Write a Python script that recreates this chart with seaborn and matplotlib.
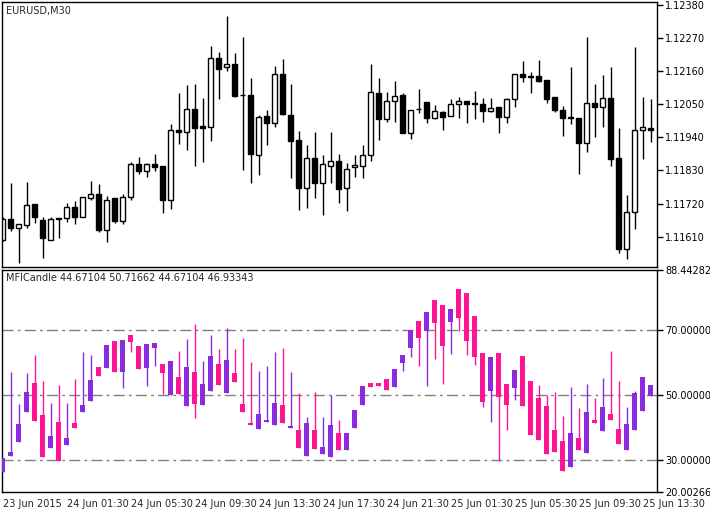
import numpy as np
import pandas as pd
import matplotlib
matplotlib.use("Agg")
import matplotlib.pyplot as plt
import seaborn as sns

# EURUSD M30 candles
price_open = [1.11598, 1.11670, 1.11639, 1.11650, 1.11718, 1.11664, 1.11600, 1.11667, 1.11673, 1.11710,
              1.11675, 1.11740, 1.11753, 1.11633, 1.11737, 1.11662, 1.11743, 1.11853, 1.11829, 1.11853,
              1.11844, 1.11733, 1.11966, 1.11959, 1.12033, 1.11977, 1.11975, 1.12203, 1.12173, 1.12183,
              1.12080, 1.12080, 1.11880, 1.12011, 1.11989, 1.12149, 1.12013, 1.11931, 1.11770, 1.11870,
              1.11789, 1.11846, 1.11860, 1.11770, 1.11840, 1.11846, 1.11880, 1.12086, 1.12000, 1.12060,
              1.12080, 1.11953, 1.12034, 1.12056, 1.12003, 1.12023, 1.12010, 1.12050, 1.12060, 1.12053,
              1.12050, 1.12029, 1.12040, 1.12009, 1.12066, 1.12149, 1.12144, 1.12143, 1.12131, 1.12073,
              1.12031, 1.12005, 1.12006, 1.11922, 1.12053, 1.12040, 1.12070, 1.11870, 1.11569, 1.11693,
              1.11963, 1.11971]
price_high = [1.11675, 1.11789, 1.11653, 1.11791, 1.11718, 1.11675, 1.11675, 1.11673, 1.11722, 1.11728,
              1.11743, 1.11794, 1.11784, 1.11744, 1.11737, 1.11753, 1.11859, 1.11875, 1.11856, 1.11886,
              1.11844, 1.11986, 1.12088, 1.12114, 1.12117, 1.12070, 1.12244, 1.12223, 1.12344, 1.12219,
              1.12273, 1.12137, 1.12014, 1.12031, 1.12177, 1.12199, 1.12117, 1.11961, 1.11914, 1.11959,
              1.11883, 1.11957, 1.11884, 1.11855, 1.11881, 1.11914, 1.12184, 1.12136, 1.12090, 1.12127,
              1.12086, 1.12031, 1.12101, 1.12056, 1.12047, 1.12027, 1.12067, 1.12073, 1.12060, 1.12094,
              1.12070, 1.12070, 1.12040, 1.12070, 1.12149, 1.12194, 1.12156, 1.12196, 1.12131, 1.12075,
              1.12044, 1.12173, 1.12006, 1.12275, 1.12117, 1.12147, 1.12173, 1.11972, 1.11748, 1.12239,
              1.12075, 1.12067]
price_low = [1.11596, 1.11629, 1.11522, 1.11639, 1.11655, 1.11539, 1.11600, 1.11606, 1.11659, 1.11653,
             1.11675, 1.11733, 1.11626, 1.11592, 1.11655, 1.11653, 1.11731, 1.11818, 1.11809, 1.11829,
             1.11687, 1.11703, 1.11917, 1.11897, 1.11845, 1.11859, 1.11929, 1.12067, 1.12162, 1.12075,
             1.11831, 1.11789, 1.11814, 1.11914, 1.11975, 1.12014, 1.11806, 1.11698, 1.11706, 1.11739,
             1.11681, 1.11789, 1.11722, 1.11695, 1.11809, 1.11806, 1.11862, 1.11931, 1.11992, 1.11992,
             1.11953, 1.11936, 1.12022, 1.11989, 1.12000, 1.11966, 1.12010, 1.12005, 1.11989, 1.12000,
             1.11992, 1.12025, 1.11953, 1.11989, 1.12040, 1.12124, 1.12088, 1.12125, 1.12053, 1.12023,
             1.11945, 1.11984, 1.11818, 1.11892, 1.11942, 1.11975, 1.11845, 1.11557, 1.11537, 1.11634,
             1.11869, 1.11925]
price_close = [1.11670, 1.11639, 1.11653, 1.11714, 1.11675, 1.11606, 1.11670, 1.11673, 1.11710, 1.11675,
               1.11743, 1.11753, 1.11631, 1.11733, 1.11661, 1.11743, 1.11853, 1.11829, 1.11853, 1.11842,
               1.11731, 1.11966, 1.11959, 1.12033, 1.11970, 1.11972, 1.12203, 1.12168, 1.12183, 1.12079,
               1.12080, 1.11884, 1.12009, 1.11989, 1.12149, 1.12017, 1.11929, 1.11772, 1.11873, 1.11789,
               1.11850, 1.11860, 1.11769, 1.11836, 1.11848, 1.11881, 1.12090, 1.12000, 1.12061, 1.12076,
               1.11953, 1.12031, 1.12034, 1.12003, 1.12027, 1.12009, 1.12050, 1.12060, 1.12050, 1.12050,
               1.12029, 1.12036, 1.12009, 1.12066, 1.12149, 1.12142, 1.12139, 1.12128, 1.12068, 1.12030,
               1.12003, 1.12005, 1.11922, 1.12053, 1.12040, 1.12070, 1.11869, 1.11569, 1.11691, 1.11963,
               1.11973, 1.11963]

# MFICandle values
mfi_open = [26.1, 31.2, 35.3, 44.6, 53.5, 43.6, 33.7, 41.7, 34.4, 41.4,
            44.6, 48.0, 58.5, 58.3, 66.6, 57.0, 68.4, 65.0, 58.3, 64.5,
            59.4, 50.0, 55.4, 46.5, 56.9, 46.8, 51.1, 59.4, 50.5, 56.6,
            47.0, 41.4, 39.3, 41.5, 40.6, 46.7, 39.6, 39.2, 31.2, 39.2,
            31.6, 30.9, 38.3, 32.8, 39.6, 46.8, 53.5, 53.5, 54.8, 52.5,
            59.8, 64.5, 72.8, 69.5, 79.3, 77.5, 72.3, 82.7, 81.5, 74.3,
            62.8, 51.1, 62.8, 53.2, 52.0, 61.9, 54.1, 48.9, 46.5, 39.2,
            35.8, 27.8, 36.7, 31.9, 42.3, 38.7, 43.9, 39.5, 32.8, 39.0,
            44.9, 49.6]
mfi_close = [30.4, 32.4, 41.1, 50.7, 41.8, 30.9, 37.4, 29.7, 36.7, 39.6,
             46.7, 54.5, 55.8, 65.3, 57.0, 66.9, 66.4, 58.0, 65.6, 66.0,
             56.7, 60.4, 50.1, 58.5, 47.0, 53.2, 61.9, 53.0, 60.7, 53.9,
             44.6, 40.6, 43.9, 42.3, 47.3, 41.2, 40.2, 33.7, 41.4, 33.4,
             33.9, 40.6, 32.8, 38.3, 45.4, 52.6, 52.5, 52.7, 51.5, 57.9,
             62.2, 70.0, 67.6, 75.6, 72.0, 65.1, 76.5, 73.5, 66.7, 61.7,
             47.7, 61.6, 49.3, 46.8, 57.6, 46.5, 37.5, 35.9, 31.6, 32.2,
             26.6, 38.3, 33.1, 44.8, 41.2, 46.1, 42.1, 34.7, 41.1, 50.4,
             55.4, 52.9]
mfi_high = [30.4, 57.0, 47.0, 56.6, 62.2, 54.1, 47.3, 52.9, 47.3, 54.8,
            63.3, 62.2, 58.5, 65.3, 66.6, 66.9, 68.4, 65.0, 65.6, 66.0,
            59.4, 60.4, 63.5, 67.2, 71.9, 60.4, 68.4, 64.1, 70.5, 64.1,
            67.5, 60.0, 57.4, 58.8, 63.3, 64.4, 56.9, 50.4, 43.1, 50.7,
            43.1, 49.8, 42.3, 38.3, 45.4, 52.6, 53.5, 53.5, 54.8, 57.9,
            62.2, 70.0, 72.8, 75.6, 79.3, 77.5, 76.5, 82.7, 81.5, 74.3,
            62.8, 61.6, 62.8, 53.2, 57.6, 61.9, 54.1, 52.9, 49.8, 50.7,
            43.4, 52.4, 45.9, 53.2, 49.0, 55.2, 63.6, 54.2, 46.2, 51.0,
            55.4, 52.9]
mfi_low = [26.1, 31.2, 35.3, 44.6, 41.8, 30.9, 33.7, 29.7, 34.4, 39.6,
           44.6, 48.0, 55.8, 58.3, 57.0, 52.1, 63.3, 58.0, 52.7, 58.9,
           50.1, 50.0, 50.1, 46.5, 42.7, 46.8, 51.1, 53.0, 50.5, 53.9,
           44.6, 40.6, 39.3, 41.5, 40.6, 41.2, 39.6, 33.7, 31.2, 33.4,
           31.6, 30.9, 32.8, 32.8, 39.6, 46.8, 52.5, 52.7, 51.5, 52.5,
           57.4, 61.7, 58.9, 52.7, 61.1, 53.3, 62.6, 69.5, 62.3, 59.2,
           46.2, 41.5, 29.7, 39.0, 48.3, 46.5, 37.5, 35.9, 31.6, 32.2,
           26.6, 27.8, 33.1, 31.9, 41.2, 38.7, 42.1, 34.7, 32.8, 39.0,
           44.9, 49.6]

price_ticks = [1.12380, 1.12270, 1.12160, 1.12050, 1.11940, 1.11830, 1.11720, 1.11610]
mfi_ticks = [88.44282, 70.0, 50.0, 30.0, 20.00266]
mfi_levels = [70.0, 50.0, 30.0]
time_labels = ["23 Jun 2015", "24 Jun 01:30", "24 Jun 05:30", "24 Jun 09:30", "24 Jun 13:30",
               "24 Jun 17:30", "24 Jun 21:30", "25 Jun 01:30", "25 Jun 05:30", "25 Jun 09:30",
               "25 Jun 13:30"]

df = pd.DataFrame({"o": price_open, "h": price_high, "l": price_low, "c": price_close,
                   "mo": mfi_open, "mh": mfi_high, "ml": mfi_low, "mc": mfi_close})
df["x"] = np.arange(len(df))

sns.set_style("white")
plt.rcParams["font.family"] = ["DejaVu Sans"]
plt.rcParams["font.size"] = 7

fig = plt.figure(figsize=(7.1, 5.11), dpi=100)
ax1 = fig.add_axes([2 / 710, 1 - 267 / 511, 655 / 710, 265 / 511])
ax2 = fig.add_axes([2 / 710, 1 - 492 / 511, 655 / 710, 222 / 511])

w = 0.6
# price candles
up = df["c"] >= df["o"]
ax1.vlines(df["x"], df["l"], df["h"], color="black", lw=1, zorder=1)
ax1.bar(df["x"][up], (df["c"] - df["o"])[up].clip(lower=0.000015), bottom=df["o"][up], width=w,
        color="white", edgecolor="black", linewidth=1, zorder=2)
ax1.bar(df["x"][~up], (df["c"] - df["o"])[~up], bottom=df["o"][~up], width=w,
        color="black", edgecolor="black", linewidth=1, zorder=2)

# MFI candles
mup = df["mc"] >= df["mo"]
mcol = np.where(mup, "#8a2be2", "#ff1493")
ax2.vlines(df["x"], df["ml"], df["mh"], colors=mcol, lw=1, zorder=2)
ax2.bar(df["x"], df["mc"] - df["mo"], bottom=df["mo"], width=w, color=mcol, linewidth=0, zorder=3)
for lv in mfi_levels:
    ax2.axhline(lv, color="#808080", lw=1, ls=(0, (8, 3, 2, 3)), zorder=1)

for ax in (ax1, ax2):
    ax.set_xlim(-0.09, 81.8)
    for s in ax.spines.values():
        s.set_color("black")
        s.set_linewidth(1)
    ax.yaxis.tick_right()
    ax.tick_params(axis="y", direction="out", length=4, width=1, pad=2, labelsize=7, colors="black")

ax1.set_ylim(1.11509, 1.12390)
ax1.set_yticks(price_ticks)
ax1.set_yticklabels([f"{t:.5f}" for t in price_ticks])
ax1.set_xticks([])
ax1.text(0.006, 0.985, "EURUSD,M30", transform=ax1.transAxes, va="top", ha="left", fontsize=7)

ax2.set_ylim(20.00266, 88.44282)
ax2.set_yticks(mfi_ticks)
ax2.set_yticklabels([f"{t:.5f}" for t in mfi_ticks])
ax2.text(0.006, 0.985, "MFICandle 44.67104 50.71662 44.67104 46.93343", transform=ax2.transAxes,
         va="top", ha="left", fontsize=7)
tick_idx = np.arange(0, len(time_labels) * 8, 8)
ax2.set_xticks(tick_idx)
ax2.set_xticklabels(time_labels, ha="left", fontsize=7)
ax2.tick_params(axis="x", direction="out", length=4, width=1, pad=1)

fig.savefig("out.png", dpi=100)
